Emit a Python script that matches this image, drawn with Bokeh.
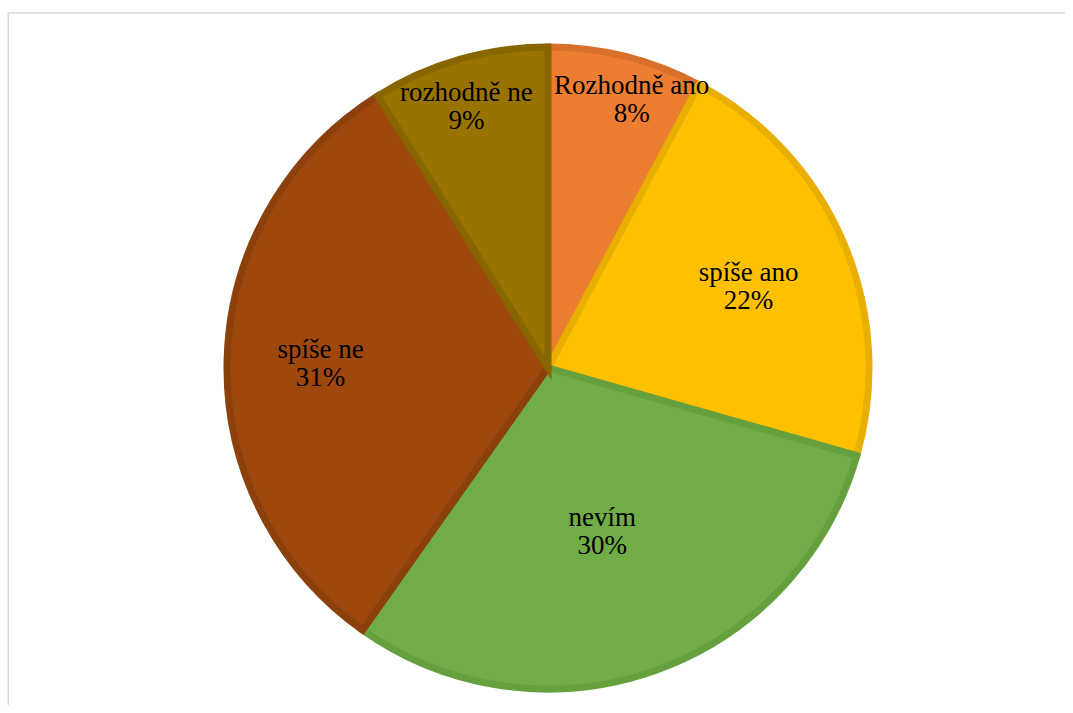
import numpy as np
from bokeh.plotting import figure
from bokeh.models import Range1d, ColumnDataSource
from bokeh.core.properties import value
from bokeh.embed import file_html
from bokeh.resources import INLINE

# ---- data ----
categories = ["Rozhodně ano", "spíše ano", "nevím", "spíše ne", "rozhodně ne"]
shares = [7.8, 21.6, 30.4, 31.3, 8.9]
pct_labels = ["8%", "22%", "30%", "31%", "9%"]

# ---- styling ----
fill_colors = ["#ED7D31", "#FFC000", "#70AD47", "#9E480E", "#997300"]
line_colors = ["#D8702B", "#E8AE00", "#65A03F", "#8C400C", "#876600"]
label_r_frac = [0.843, 0.658, 0.557, 0.701, 0.818]
label_ang_deg = [17.8, 69.9, 162.5, 269.1, 342.1]

W, H = 1065, 705
CX, CY = 547.5, H - 367.5
R_OUT = 324.5
LW = 7
R = R_OUT - LW / 2

p = figure(width=W, height=H, output_backend="svg", toolbar_location=None,
           x_range=Range1d(0, W), y_range=Range1d(0, H), min_border=0)
p.axis.visible = False
p.xgrid.visible = False
p.ygrid.visible = False
p.outline_line_color = None
p.background_fill_color = "white"
p.border_fill_color = "white"

# chart-area frame (only top and left edges visible)
p.line([7.75, 7.75, W], [0, H - 12.5, H - 12.5], line_color="#D9D9D9", line_width=1.5)

frac = np.array(shares) / np.sum(shares)
cum = np.concatenate([[0], np.cumsum(frac)])
start = np.pi / 2 - cum[:-1] * 2 * np.pi
end = np.pi / 2 - cum[1:] * 2 * np.pi

src = ColumnDataSource(dict(cat=categories, start=start, end=end,
                            fill=fill_colors, line=line_colors))
p.wedge(x=CX, y=CY, radius=R, start_angle="start", end_angle="end",
        direction="clock", fill_color="fill", line_color="line",
        line_width=LW, line_join="miter", source=src)

ang = np.radians(label_ang_deg)
lr = np.array(label_r_frac) * R_OUT
lx = CX + lr * np.sin(ang)
ly = CY + lr * np.cos(ang) + 9

font = value("Liberation Serif")
p.text(x=lx, y=ly + 14, text=categories, text_font=font, text_font_size="27px",
       text_color="black", text_align="center", text_baseline="alphabetic")
p.text(x=lx, y=ly - 14, text=pct_labels, text_font=font, text_font_size="27px",
       text_color="black", text_align="center", text_baseline="alphabetic")

open("out.html", "w").write(file_html(p, INLINE))
